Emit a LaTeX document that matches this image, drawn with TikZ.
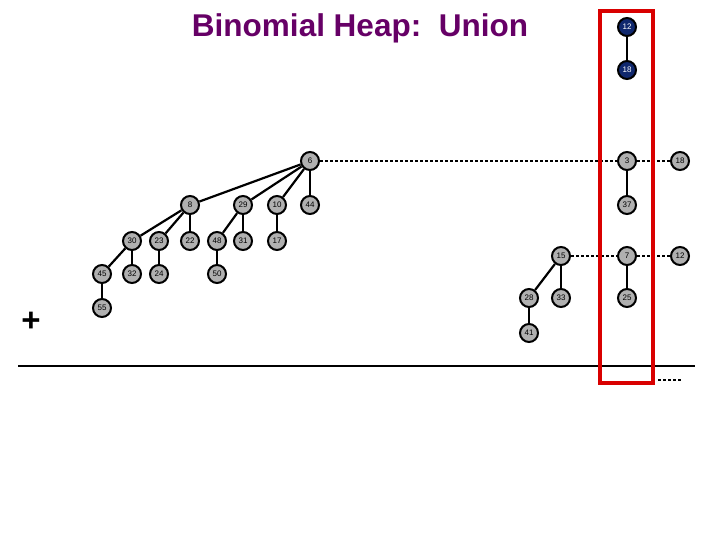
\documentclass[tikz,border=0pt]{standalone}
\usepackage{fontspec}
\setmainfont{Liberation Sans}
\usetikzlibrary{positioning}
\definecolor{titlepurple}{RGB}{102,0,102}
\definecolor{keygray}{RGB}{176,176,176}
\definecolor{keynavy}{RGB}{16,40,110}
\tikzset{
  key/.style={circle, draw=black, line width=2pt, fill=keygray, minimum size=18pt, inner sep=0pt, font=\fontsize{8}{8}\selectfont},
  newkey/.style={key, fill=keynavy, text=white},
  edge/.style={black, line width=2.2pt},
  root/.style={black, line width=1.3pt, dash pattern=on 3pt off 2pt}
}

\begin{document}
\begin{tikzpicture}[x=1pt,y=-1pt]
\useasboundingbox (0,0) rectangle (720,540);
%title
\node[font=\bfseries\fontsize{31.5}{31.5}\selectfont, text=titlepurple] (title) at (360,28) {Binomial Heap:\ \ Union};

%new tree
\node[newkey] (b12) at (627,27) {12};
\node[newkey] (b18) at (627,70) {18};
\draw[edge] (b12) -- (b18);

%first heap
\node[key] (a6) at (310,161) {6};
\node[key] (a3) at (627,161) {3};
\node[key] (a18) at (680,161) {18};
\node[key] (a8) at (190,205) {8};
\node[key] (a29) at (243,205) {29};
\node[key] (a10) at (277,205) {10};
\node[key] (a44) at (310,205) {44};
\node[key] (a37) at (627,205) {37};
\node[key] (a30) at (132,241) {30};
\node[key] (a23) at (159,241) {23};
\node[key] (a22) at (190,241) {22};
\node[key] (a48) at (217,241) {48};
\node[key] (a31) at (243,241) {31};
\node[key] (a17) at (277,241) {17};
\node[key] (a45) at (102,274) {45};
\node[key] (a32) at (132,274) {32};
\node[key] (a24) at (159,274) {24};
\node[key] (a50) at (217,274) {50};
\node[key] (a55) at (102,308) {55};
%edges
\draw[edge] (a6) -- (a8);
\draw[edge] (a6) -- (a29);
\draw[edge] (a6) -- (a10);
\draw[edge] (a6) -- (a44);
\draw[edge] (a8) -- (a30);
\draw[edge] (a8) -- (a23);
\draw[edge] (a8) -- (a22);
\draw[edge] (a29) -- (a48);
\draw[edge] (a29) -- (a31);
\draw[edge] (a10) -- (a17);
\draw[edge] (a30) -- (a45);
\draw[edge] (a30) -- (a32);
\draw[edge] (a23) -- (a24);
\draw[edge] (a48) -- (a50);
\draw[edge] (a45) -- (a55);
\draw[edge] (a3) -- (a37);
%root list
\draw[root] (a6) -- (a3);
\draw[root] (a3) -- (a18);

%second heap
\node[key] (c15) at (561,256) {15};
\node[key] (c7) at (627,256) {7};
\node[key] (c12) at (680,256) {12};
\node[key] (c28) at (529,298) {28};
\node[key] (c33) at (561,298) {33};
\node[key] (c25) at (627,298) {25};
\node[key] (c41) at (529,333) {41};
\draw[edge] (c15) -- (c28);
\draw[edge] (c15) -- (c33);
\draw[edge] (c28) -- (c41);
\draw[edge] (c7) -- (c25);
\draw[root] (c15) -- (c7);
\draw[root] (c7) -- (c12);

%plus and sum line
\node[font=\bfseries\fontsize{33}{33}\selectfont] (plus) at (31,322) {+};
\coordinate (sumL) at (18,366);
\coordinate (sumR) at (695,366);
\draw[black, line width=2pt] (sumL) -- (sumR);
\coordinate (resL) at (658,380);
\coordinate (resR) at (682,380);
\draw[root] (resL) -- (resR);

%highlight
\draw[red!85!black, line width=4pt] (600,11) rectangle (653,383);
\end{tikzpicture}
\end{document}
